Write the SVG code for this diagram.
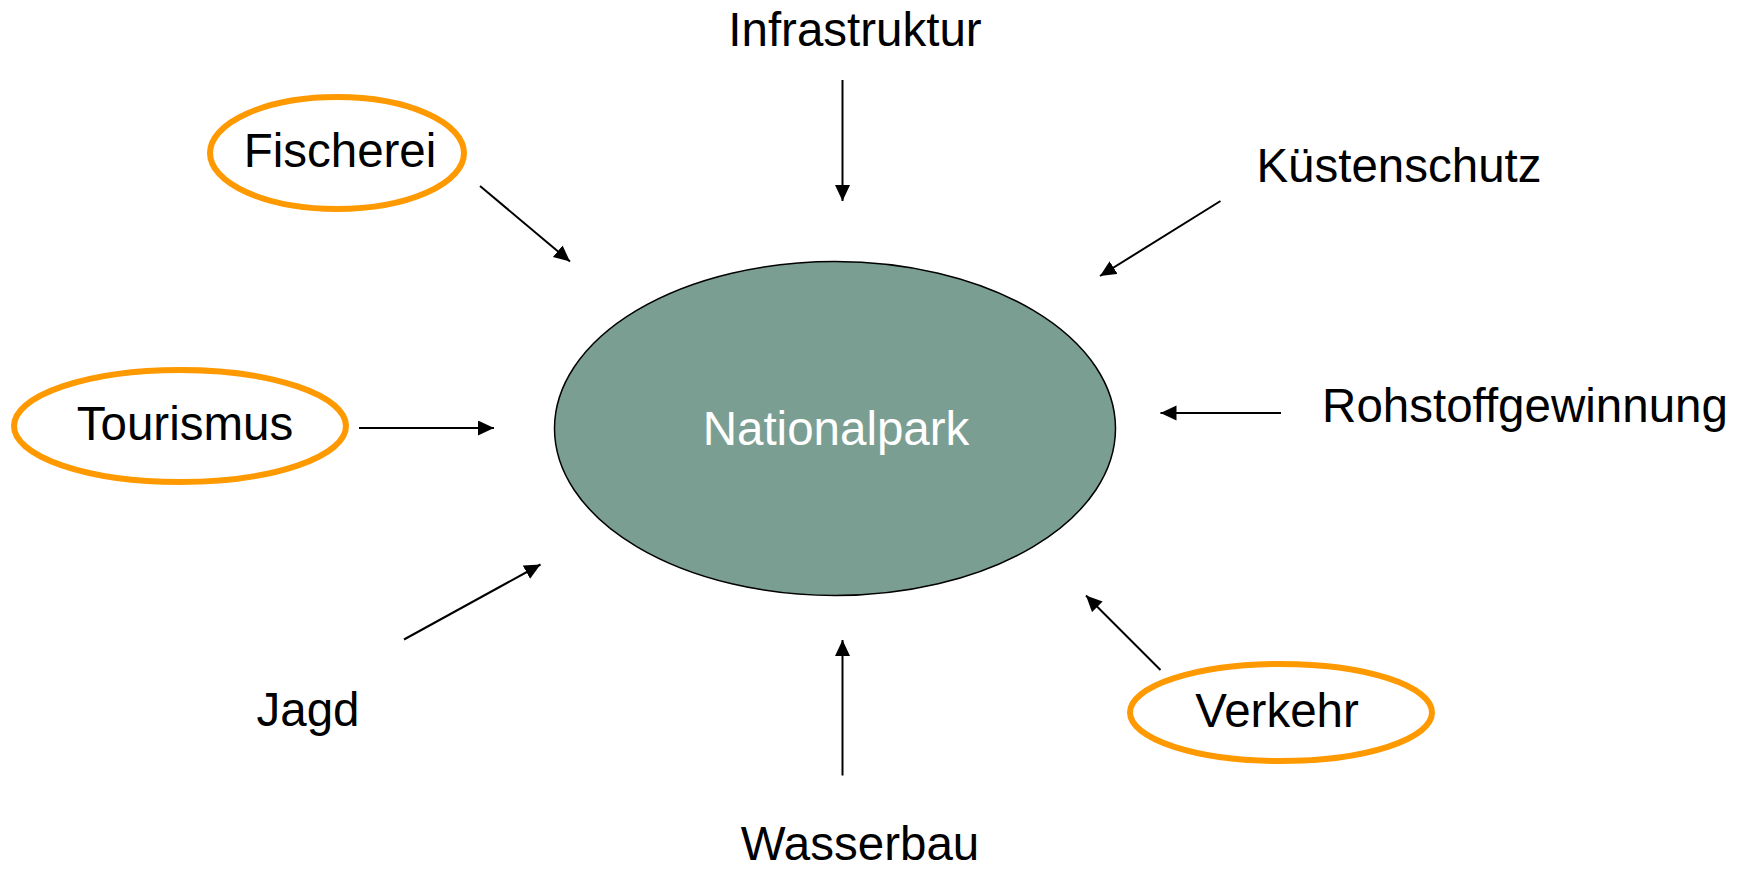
<svg xmlns="http://www.w3.org/2000/svg" width="1745" height="869" viewBox="0 0 1745 869">
<defs>
<style>
.lbl{font-family:"Liberation Sans",Arial,sans-serif;font-size:47.5px;fill:#000;text-anchor:middle}
.ring{fill:none;stroke:#FF9900;stroke-width:6}
.conn line{stroke:#000;stroke-width:2;marker-end:url(#ah)}
</style>
<marker id="ah" markerUnits="userSpaceOnUse" markerWidth="17" markerHeight="16" refX="16" refY="7.5" orient="auto">
<path d="M0,0 L16,7.5 L0,15 z" fill="#000"/>
</marker>
</defs>
<rect width="1745" height="869" fill="#fff"/>
<g id="nationalpark">
<ellipse cx="835" cy="428.5" rx="280.5" ry="167" fill="#7B9E93" stroke="#000" stroke-width="1.5"/>
<text x="836" y="445" class="lbl" style="fill:#fff">Nationalpark</text>
</g>
<g id="infrastruktur"><text x="855" y="46" class="lbl">Infrastruktur</text></g>
<g id="fischerei">
<ellipse cx="337" cy="153" rx="127" ry="56" class="ring"/>
<text x="340" y="167" class="lbl">Fischerei</text>
</g>
<g id="kuestenschutz"><text x="1399" y="182" class="lbl">Küstenschutz</text></g>
<g id="tourismus">
<ellipse cx="180" cy="426" rx="166" ry="56" class="ring"/>
<text x="185" y="440" class="lbl">Tourismus</text>
</g>
<g id="rohstoffgewinnung"><text x="1525" y="422" class="lbl">Rohstoffgewinnung</text></g>
<g id="jagd"><text x="308" y="726" class="lbl">Jagd</text></g>
<g id="wasserbau"><text x="860" y="860" class="lbl">Wasserbau</text></g>
<g id="verkehr">
<ellipse cx="1281" cy="712.5" rx="151" ry="48.5" class="ring"/>
<text x="1277" y="727" class="lbl">Verkehr</text>
</g>
<g id="connectors" class="conn">
<line x1="842.5" y1="80" x2="842.5" y2="201"/>
<line x1="480" y1="186" x2="570" y2="261.5"/>
<line x1="1220.5" y1="201" x2="1100" y2="276"/>
<line x1="359" y1="428" x2="494" y2="428"/>
<line x1="1281" y1="413" x2="1160.5" y2="413"/>
<line x1="404" y1="639.5" x2="540.5" y2="564.5"/>
<line x1="842.5" y1="775.5" x2="842.5" y2="640"/>
<line x1="1160.5" y1="670" x2="1086" y2="595.5"/>
</g>
</svg>
